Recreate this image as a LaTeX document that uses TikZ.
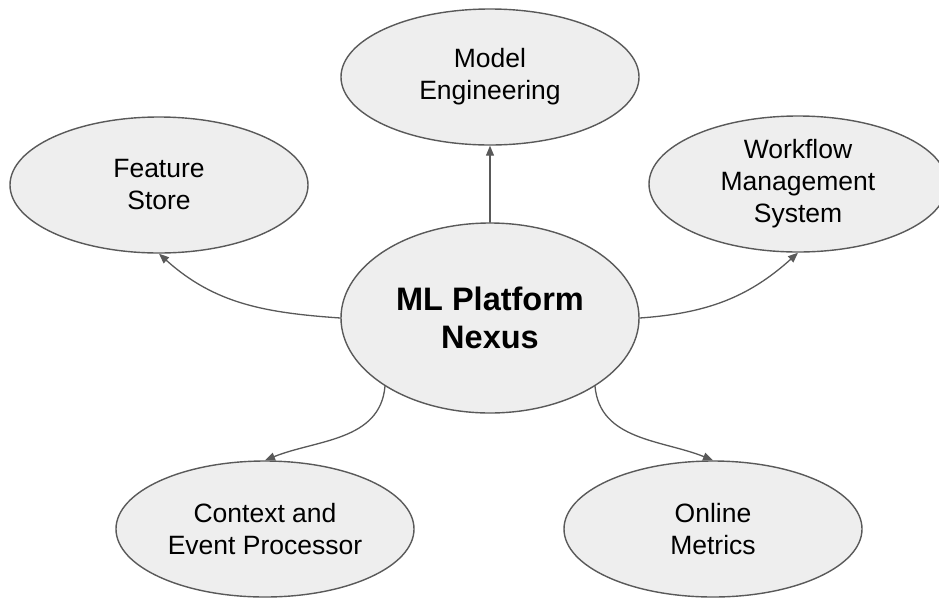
\documentclass[tikz,border=0pt]{standalone}
\usepackage{fontspec}
\setmainfont{Liberation Sans}
\usetikzlibrary{shapes.geometric,arrows.meta}
\definecolor{bubblefill}{HTML}{EEEEEE}
\definecolor{edgegray}{HTML}{595959}

\begin{document}
\begin{tikzpicture}[x=1pt,y=-1pt,line cap=round,line join=round,
    bubble/.style={ellipse,draw=edgegray,line width=1.4pt,fill=bubblefill,inner sep=0pt,
      minimum width=298pt,minimum height=136pt,align=center,
      font=\fontsize{26.5}{32}\selectfont},
    hub/.style={bubble,minimum width=298pt,minimum height=190pt,
      font=\fontsize{32.5}{38}\selectfont\bfseries},
    link/.style={draw=edgegray,line width=1.3pt,-{Triangle[length=10pt,width=8pt]}}]
			\useasboundingbox (0,0) rectangle (939,598);
			% nodes
			\node[hub] (nexus) at (490,318) {ML Platform\\Nexus};
			\node[bubble] (model) at (490,77) {Model\\Engineering};
			\node[bubble] (feat) at (159,185) {Feature\\Store};
			\node[bubble] (flow) at (798,184) {Workflow\\Management\\System};
			\node[bubble] (ctx) at (265,529) {Context and\\Event Processor};
			\node[bubble] (online) at (713,529) {Online\\Metrics};
			% connectors
			\draw[link] (nexus.north) -- (model.south);
			\draw[link] (nexus.west) to[out=176,in=-42] (feat.south);
			\draw[link] (nexus.east) to[out=4,in=-138] (flow.south);
			\draw[link] (nexus.-147) to[out=-95,in=22] (ctx.north);
			\draw[link] (nexus.-33) to[out=-85,in=158] (online.north);
		\end{tikzpicture}
\end{document}
